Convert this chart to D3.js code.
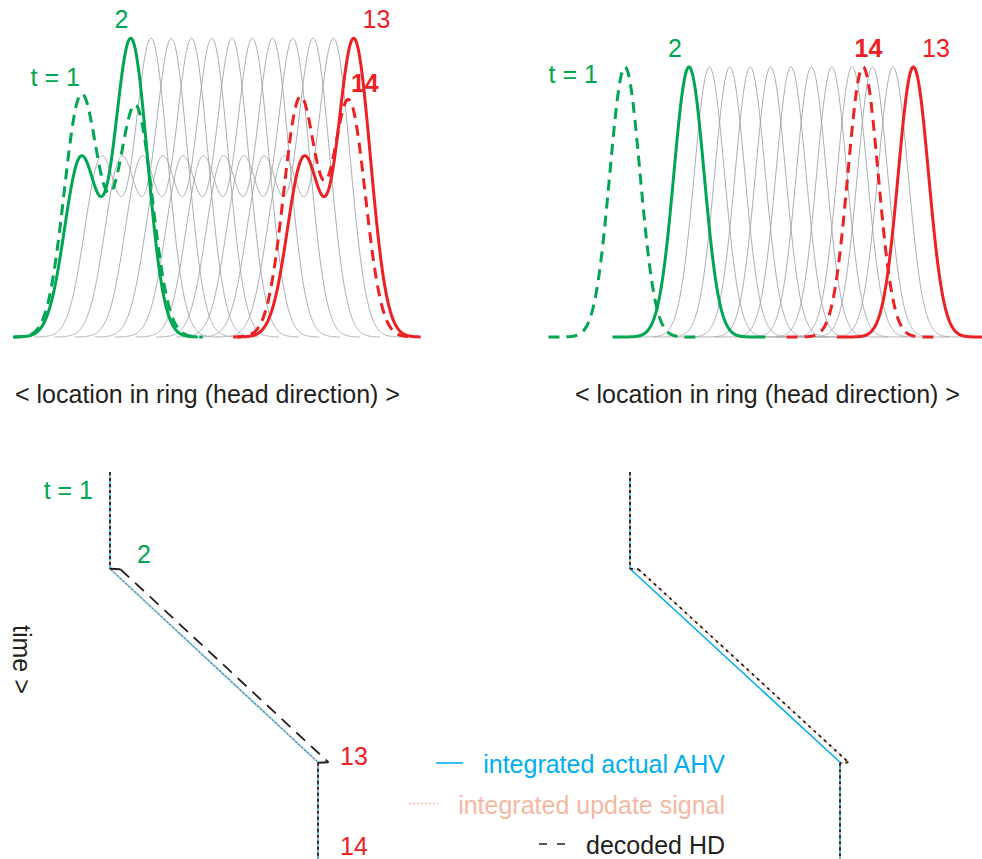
<!DOCTYPE html>
<html>
<head>
<meta charset="utf-8">
<script src="https://cdn.jsdelivr.net/npm/d3@7/dist/d3.min.js"></script>
<style>
  body { margin: 0; background: #fff; }
  svg { display: block; font-family: "Liberation Sans", Arial, Helvetica, sans-serif; }
</style>
</head>
<body>
<svg id="chart" width="982" height="859"></svg>
<script>
// ---- data -------------------------------------------------------------
// ring location is in units of one cell spacing; amplitude is relative to the main bump

// time steps drawn as plain bumps (first = green "2", last = red "13")
const stepTimes = [2, 3, 4, 5, 6, 7, 8, 9, 10, 11, 12, 13];
const bumpLoc = [5, 6, 7, 8, 9, 10, 11, 12, 13, 14, 15, 16];

// left panel: every bump carries a smaller side bump behind it
const leftSideShift = -2.47;
const leftSideAmp = 0.6;
const leftWidth = 0.81;
const leftStartBumps = [{ loc: 2.48, amp: 0.76 }, { loc: 3.62, amp: 0.14 }, { loc: 5.25, amp: 0.76 }];   // t = 1
const leftEndBumps = [{ loc: 13.34, amp: 0.8 }, { loc: 15.75, amp: 0.79 }];   // t = 14

// right panel: single bumps
const rightWidth = 0.74;
const rightStartBumps = [{ loc: 1.86, amp: 1 }];    // t = 1
const rightEndBumps = [{ loc: 13.53, amp: 1 }];     // t = 14

// bottom panels: location over time
const trajTime = [0, 10, 30, 40];
const actualLoc = [0, 0, 10, 10];
const leftUpdateLoc = [0, 0, 10, 10];
const leftDecodedTime = [0, 10, 10.05, 30, 30.05, 40];
const leftDecodedLoc = [0, 0, 0.5, 10.5, 10, 10];
const rightShiftTime = [0, 10, 10.05, 30, 30.1, 40];
const rightShiftLoc = [0, 0, 0.4, 10.4, 10, 10];

const legendLabels = ["integrated actual AHV", "integrated update signal", "decoded HD"];

// ---- styles -----------------------------------------------------------
const GREEN = "#00a651";
const RED = "#ed2024";
const GRAY = "#9fa3a9";
const BLUE = "#00aeef";
const PEACH = "#f6b8a1";
const BLACK = "#231f20";
const FONT = 25;

const svg = d3.select("#chart");

function gauss(x, mu, s) {
  return Math.exp(-((x - mu) * (x - mu)) / (2 * s * s));
}

function bumpProfile(bumps, width, tail) {
  const lo = d3.min(bumps, (b) => b.loc) - tail;
  const hi = d3.max(bumps, (b) => b.loc) + tail;
  return d3.range(lo, hi + 0.001, 0.02).map((x) => ({
    x,
    y: d3.sum(bumps, (b) => b.amp * gauss(x, b.loc, width)),
  }));
}

function drawRing(opts) {
  const x = d3.scaleLinear().domain([0, 20]).range(opts.xRange);
  const y = d3.scaleLinear().domain([0, 1]).range(opts.yRange);
  const line = d3.line().x((d) => x(d.x)).y((d) => y(d.y)).curve(d3.curveBasis);
  const g = svg.append("g");

  const states = bumpLoc.map((loc) => opts.makeBumps(loc));

  g.append("g")
    .selectAll("path")
    .data(states.slice(1, -1))
    .join("path")
    .attr("d", (d) => line(bumpProfile(d, opts.width, opts.tail)))
    .attr("fill", "none")
    .attr("stroke", GRAY)
    .attr("stroke-width", 0.9);

  const colored = [
    { bumps: states[0], color: GREEN, dash: null },
    { bumps: states[states.length - 1], color: RED, dash: null },
    { bumps: opts.start, color: GREEN, dash: "11,7" },
    { bumps: opts.end, color: RED, dash: "11,7" },
  ];

  g.append("g")
    .selectAll("path")
    .data(colored)
    .join("path")
    .attr("d", (d) => line(bumpProfile(d.bumps, opts.width, opts.tail)))
    .attr("fill", "none")
    .attr("stroke", (d) => d.color)
    .attr("stroke-width", 3)
    .attr("stroke-dasharray", (d) => d.dash);

  g.append("g")
    .selectAll("text")
    .data(opts.labels(x))
    .join("text")
    .attr("x", (d) => d.x)
    .attr("y", (d) => d.y)
    .attr("text-anchor", (d) => d.anchor)
    .attr("fill", (d) => d.color)
    .attr("font-weight", (d) => (d.bold ? "bold" : null))
    .attr("font-size", FONT)
    .text((d) => d.text);

  g.append("text")
    .attr("x", opts.axisX)
    .attr("y", 403)
    .attr("font-size", FONT)
    .attr("fill", BLACK)
    .text("< location in ring (head direction) >");
}

drawRing({
  xRange: [29.65, 435.05],
  yRange: [337, 40],
  width: leftWidth,
  tail: 3.3,
  makeBumps: (loc) => [
    { loc: loc + leftSideShift, amp: leftSideAmp },
    { loc, amp: 1 },
  ],
  start: leftStartBumps,
  end: leftEndBumps,
  axisX: 15,
  labels: (x) => [
    { text: "2", x: x(bumpLoc[0]) - 9.5, y: 28, anchor: "middle", color: GREEN },
    { text: "13", x: x(bumpLoc[bumpLoc.length - 1]) + 22.5, y: 28, anchor: "middle", color: RED },
    { text: "t = 1", x: x(leftStartBumps[0].loc), y: 86, anchor: "end", color: GREEN },
    { text: "14", x: x(leftEndBumps[1].loc) + 2, y: 92, anchor: "start", color: RED, bold: true },
  ],
});

drawRing({
  xRange: [587, 995],
  yRange: [337, 67],
  width: rightWidth,
  tail: 3.75,
  makeBumps: (loc) => [{ loc, amp: 1 }],
  start: rightStartBumps,
  end: rightEndBumps,
  axisX: 575,
  labels: (x) => [
    { text: "t = 1", x: x(rightStartBumps[0].loc) - 27, y: 83, anchor: "end", color: GREEN },
    { text: "2", x: x(bumpLoc[0]) - 14, y: 57, anchor: "middle", color: GREEN },
    { text: "14", x: x(rightEndBumps[0].loc) + 5.5, y: 57, anchor: "middle", color: RED, bold: true },
    { text: "13", x: x(bumpLoc[bumpLoc.length - 1]) + 22.5, y: 57, anchor: "middle", color: RED },
  ],
});

// ---- bottom: trajectories over time ------------------------------------
const yTime = d3.scaleLinear().domain([0, 40]).range([472, 859]);

function drawTrajectory(xRange, update, decoded, decodedDash) {
  const x = d3.scaleLinear().domain([0, 10]).range(xRange);
  const g = svg.append("g");
  const line = d3.line().x((d) => x(d.loc)).y((d) => yTime(d.t));
  const zip = (ts, ls) => ts.map((t, i) => ({ t, loc: ls[i] }));

  g.append("path")
    .attr("d", line(zip(trajTime, actualLoc)))
    .attr("fill", "none")
    .attr("stroke", BLUE)
    .attr("stroke-width", 1.6);

  g.append("path")
    .attr("d", line(zip(update.t, update.loc)))
    .attr("fill", "none")
    .attr("stroke", PEACH)
    .attr("stroke-width", 1.6)
    .attr("stroke-dasharray", "2,2");

  // decoded HD: vertical stretches are sampled densely, so they read as short dashes
  const pts = zip(decoded.t, decoded.loc);
  g.append("g")
    .selectAll("path")
    .data(d3.pairs(pts))
    .join("path")
    .attr("d", (d) => line(d))
    .attr("fill", "none")
    .attr("stroke", BLACK)
    .attr("stroke-width", 1.8)
    .attr("stroke-dasharray", (d) => (d[0].loc === d[1].loc ? "3,3" : decodedDash));
  return x;
}

const xBL = drawTrajectory(
  [110, 318],
  { t: trajTime, loc: leftUpdateLoc },
  { t: leftDecodedTime, loc: leftDecodedLoc },
  "12,8"
);
drawTrajectory(
  [630, 840],
  { t: rightShiftTime, loc: rightShiftLoc },
  { t: rightShiftTime, loc: rightShiftLoc },
  "3,4"
);

const bottomLabels = [
  { text: "t = 1", x: xBL(0) - 17, y: yTime(2.8), anchor: "end", color: GREEN },
  { text: "2", x: xBL(0) + 27, y: yTime(9.4), anchor: "start", color: GREEN },
  { text: "13", x: xBL(10) + 22, y: yTime(30.3), anchor: "start", color: RED },
  { text: "14", x: xBL(10) + 22, y: yTime(39.6), anchor: "start", color: RED },
];

svg.append("g")
  .selectAll("text")
  .data(bottomLabels)
  .join("text")
  .attr("x", (d) => d.x)
  .attr("y", (d) => d.y)
  .attr("text-anchor", (d) => d.anchor)
  .attr("fill", (d) => d.color)
  .attr("font-size", FONT)
  .text((d) => d.text);

svg.append("text")
  .attr("transform", "translate(13,625) rotate(90)")
  .attr("font-size", FONT)
  .attr("fill", BLACK)
  .text("time >");

// ---- legend -----------------------------------------------------------
const legendStyles = [
  { color: BLUE, dash: null },
  { color: PEACH, dash: "2,2" },
  { color: BLACK, dash: "8,10" },
];

const legend = svg.append("g");
legendLabels.forEach((label, i) => {
  const baseY = 773 + i * 40.5;
  const t = legend.append("text")
    .attr("x", 725)
    .attr("y", baseY)
    .attr("text-anchor", "end")
    .attr("font-size", FONT)
    .attr("fill", legendStyles[i].color)
    .text(label);
  const left = 725 - t.node().getComputedTextLength();
  const len = i === 1 ? 29 : 27;
  legend.append("line")
    .attr("x1", left - 20 - len)
    .attr("x2", left - 20)
    .attr("y1", baseY - 10)
    .attr("y2", baseY - 10)
    .attr("stroke", legendStyles[i].color)
    .attr("stroke-width", 1.6)
    .attr("stroke-dasharray", legendStyles[i].dash);
});
</script>
</body>
</html>
